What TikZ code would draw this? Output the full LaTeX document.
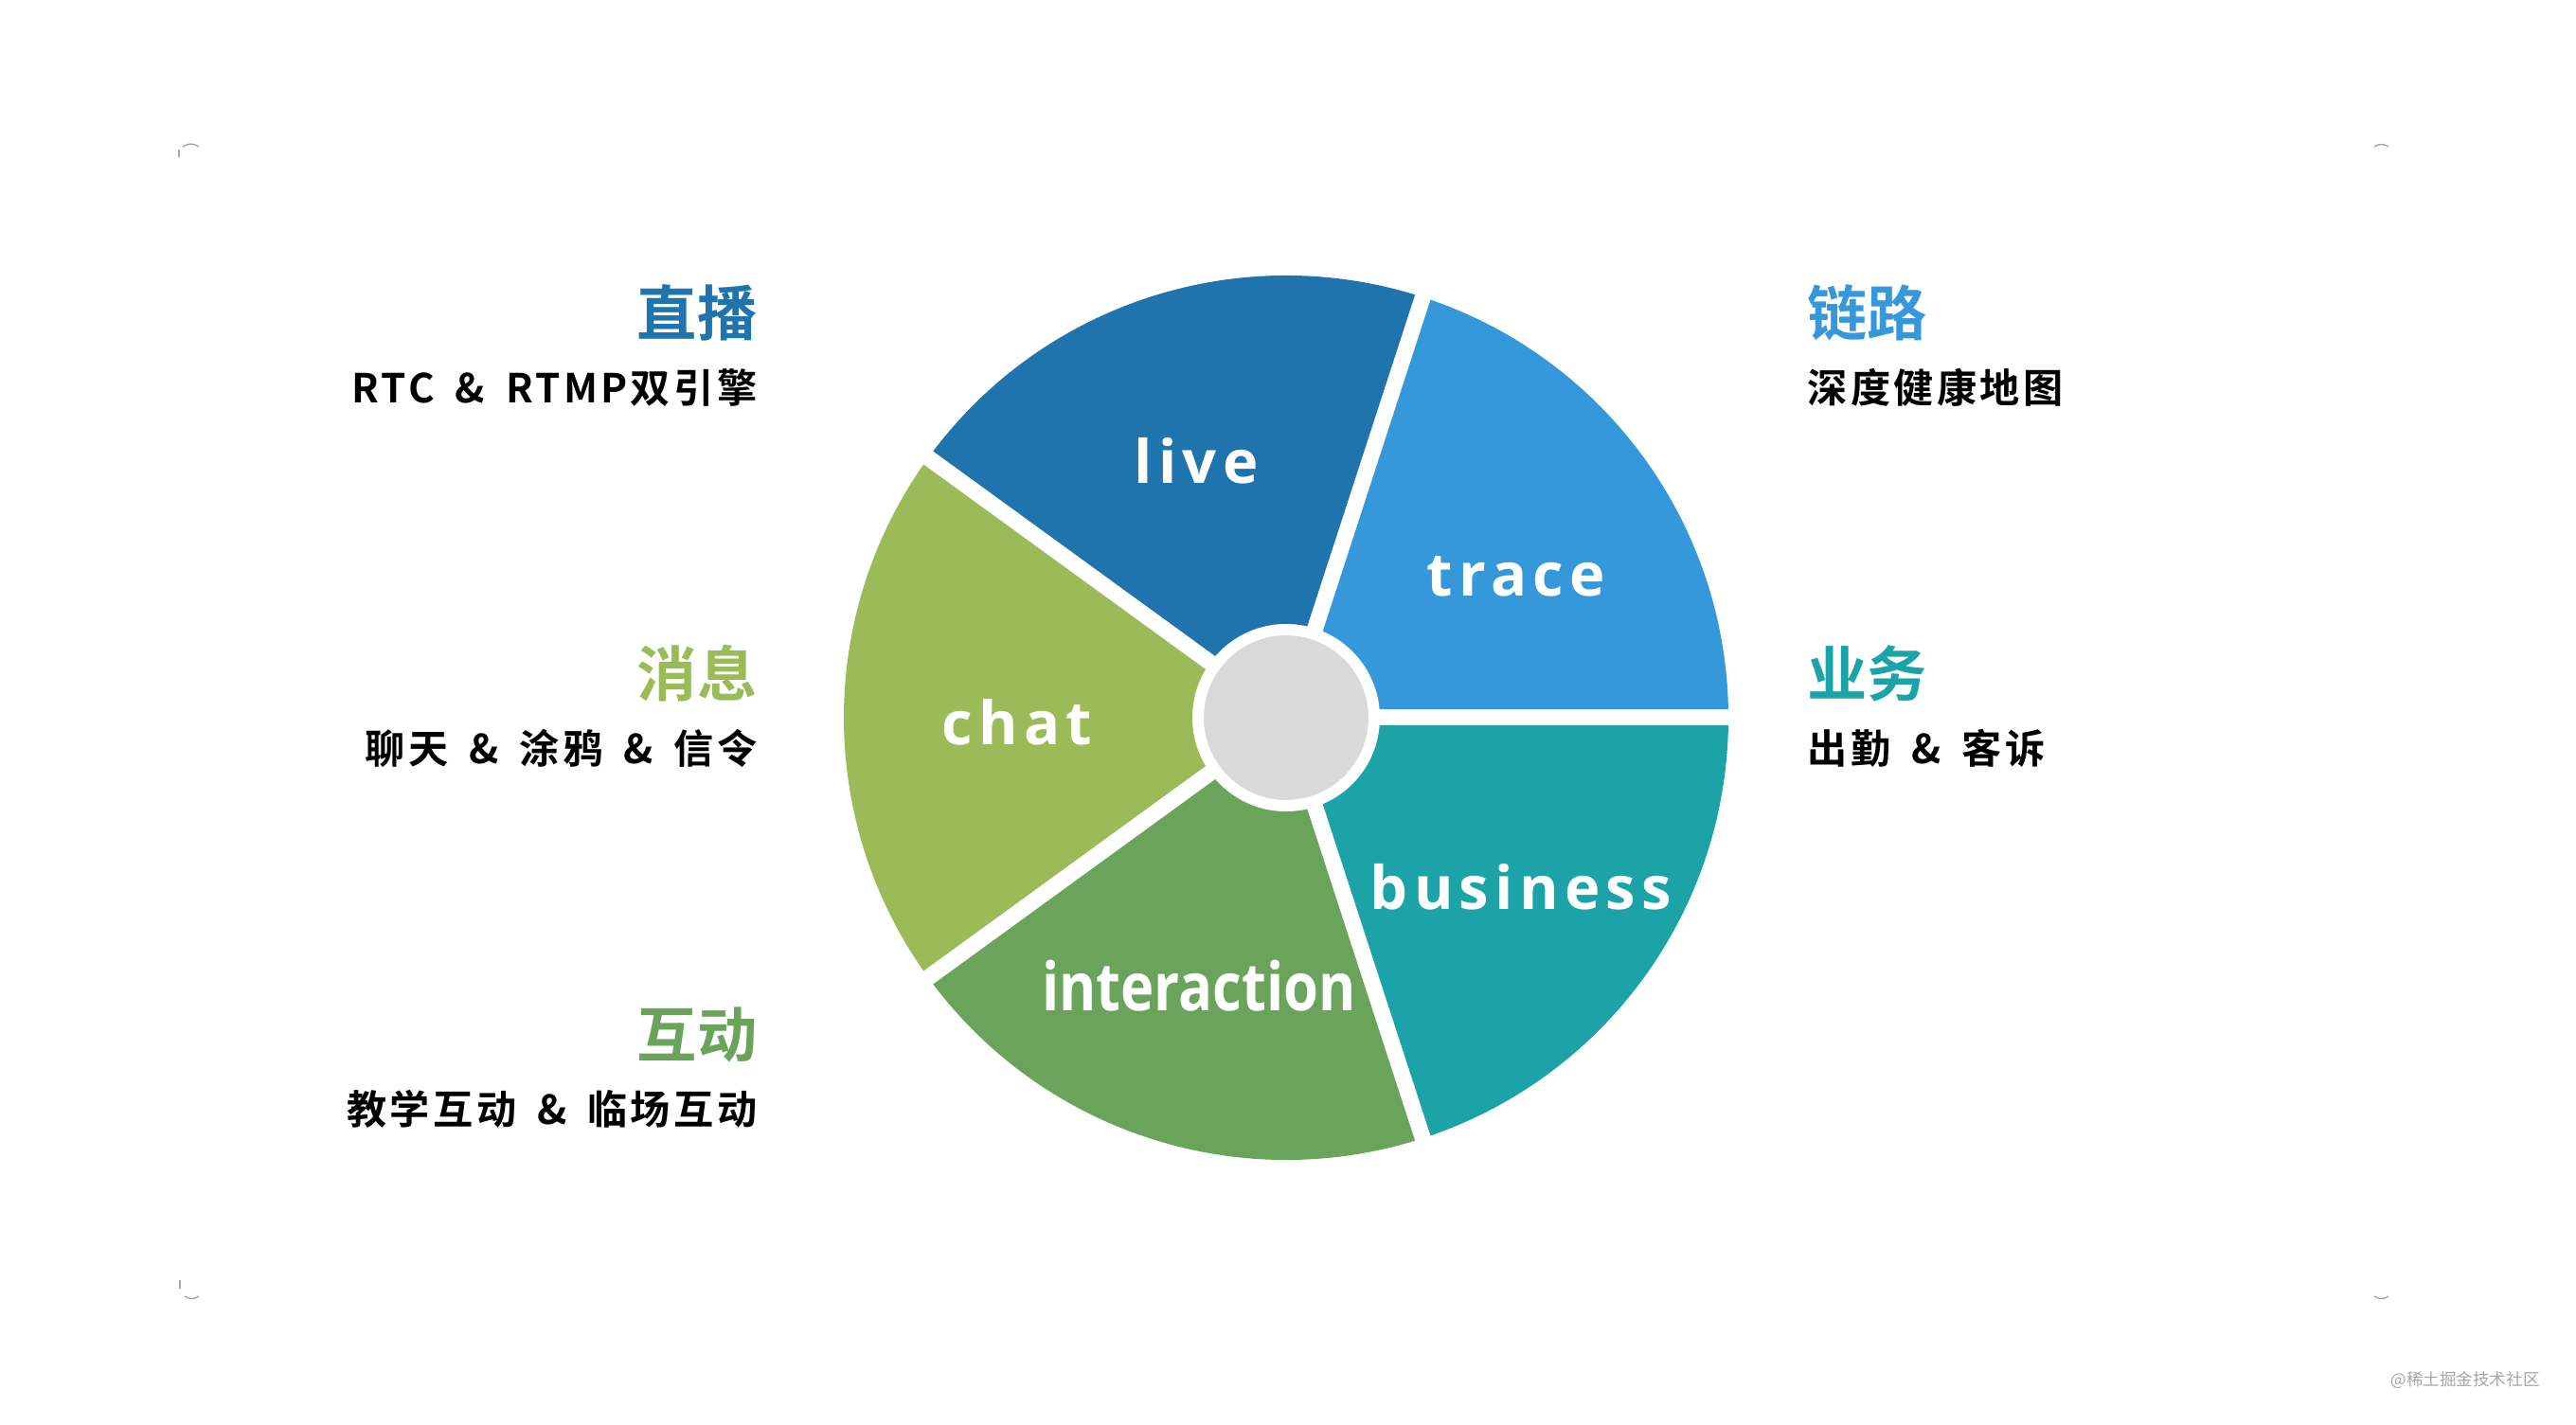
\documentclass[tikz,border=0pt]{standalone}
\usepackage{fontspec}
\usepackage{xcolor}
\usepackage{tikz}
\usetikzlibrary{positioning, calc}
\newfontfamily\labfont{Open Sans}[LetterSpace=10]
\newfontfamily\condfont{Open Sans}
\newfontfamily\cjk{Noto Sans CJK SC}[BoldFont={* Bold}]
\newfontfamily\cjksub{Noto Sans CJK SC}[BoldFont={* Bold}, LetterSpace=8, WordSpace=1.7]
\definecolor{livecol}{HTML}{1F74AD}
\definecolor{tracecol}{HTML}{3598DB}
\definecolor{chatcol}{HTML}{9BBB59}
\definecolor{intercol}{HTML}{6AA45A}
\definecolor{busicol}{HTML}{1BA3A8}
\definecolor{hubgray}{HTML}{D9D9D9}
\tikzset{
  seclabel/.style={text=white, font=\labfont\bfseries\fontsize{18}{20}\selectfont, inner sep=0pt},
  heading/.style={font=\cjk\bfseries\fontsize{18}{20}\selectfont, inner sep=0pt},
  subline/.style={text=black, font=\cjksub\bfseries\fontsize{12}{14}\selectfont, inner sep=0pt},
  gap/.style={draw=white, line width=0.17cm},
  hub/.style={circle, minimum size=1.86cm, draw=white, line width=0.12cm, fill=hubgray, inner sep=0pt},
  cornermark/.style={draw=gray!70, line width=0.4pt}
}

\begin{document}
\begin{tikzpicture}[x=1cm, y=1cm]
\useasboundingbox (0,0) rectangle (27.2,15.04);
\fill[white] (0,0) rectangle (27.2,15.04);
\coordinate (c) at (13.58,7.46);

% pie sectors
\foreach \ang/\col in {0/tracecol, 72/livecol, 144/chatcol, 216/intercol, 288/busicol}
  \fill[\col] (c) -- ++(\ang:4.67) arc[start angle=\ang, end angle=\ang+72, radius=4.67] -- cycle;
\foreach \ang in {0,72,...,288}
  \draw[gap] (c) -- ++(\ang:4.8);
\node[hub] (hub) at (c) {};

\node[seclabel] (live) at (12.63,10.17) {live};
\node[seclabel] (trace) at (16.01,8.95) {trace};
\node[seclabel] (chat) at (10.74,7.41) {chat};
\node[seclabel] (business) at (16.06,5.67) {business};
\node[seclabel, font=\condfont\bfseries\fontsize{20}{22}\selectfont] (interaction) at (12.66,4.63) {\scalebox{0.85}[1]{interaction}};

% left side
\node[heading, text=livecol, anchor=east] (zhibo) at (8.0,11.74) {直播};
\node[subline, below=0.28cm of zhibo.south east, anchor=north east] (zhibosub) {RTC \& RTMP双引擎};
\node[heading, text=chatcol, anchor=east] (xiaoxi) at (8.0,7.93) {消息};
\node[subline, below=0.28cm of xiaoxi.south east, anchor=north east] (xiaoxisub) {聊天 \& 涂鸦 \& 信令};
\node[heading, text=intercol, anchor=east] (hudong) at (8.0,4.11) {互动};
\node[subline, below=0.28cm of hudong.south east, anchor=north east] (hudongsub) {教学互动 \& 临场互动};

% right side
\node[heading, text=tracecol, anchor=west] (lianlu) at (19.08,11.74) {链路};
\node[subline, below=0.28cm of lianlu.south west, anchor=north west] (lianlusub) {深度健康地图};
\node[heading, text=busicol, anchor=west] (yewu) at (19.08,7.93) {业务};
\node[subline, below=0.28cm of yewu.south west, anchor=north west] (yewusub) {出勤 \& 客诉};

% slide corners
\draw[cornermark] (1.93,13.49) to[bend left=35] (2.10,13.49);
\draw[cornermark] (1.89,13.46) -- (1.89,13.38);
\draw[cornermark] (25.07,13.49) to[bend left=35] (25.22,13.49);
\draw[cornermark] (1.95,1.35) to[bend right=35] (2.10,1.35);
\draw[cornermark] (1.90,1.52) -- (1.90,1.43);
\draw[cornermark] (25.07,1.35) to[bend right=35] (25.22,1.35);

\node[text=gray!70, font=\cjk\fontsize{5}{6}\selectfont] (mark) at (26.03,0.46) {@稀土掘金技术社区};
\end{tikzpicture}
\end{document}
